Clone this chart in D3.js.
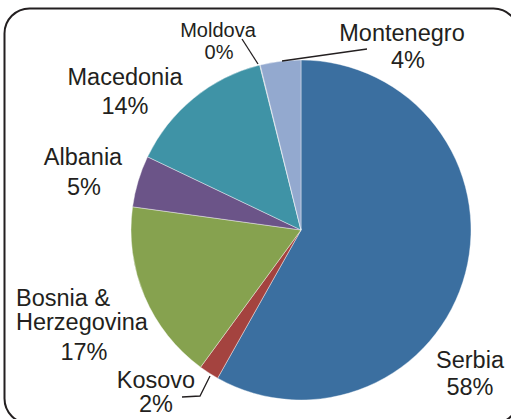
<!DOCTYPE html>
<html>
<head>
<meta charset="utf-8">
<script src="https://cdn.jsdelivr.net/npm/d3@7"></script>
<style>
  body { margin: 0; background: #fff; }
  text { font-family: "Liberation Sans", Arial, sans-serif; fill: #231f20; }
</style>
</head>
<body>
<div id="pie"></div>
<script>
// shares, clockwise from 12 o'clock
var countries = ["Serbia", "Kosovo", "Bosnia & Herzegovina", "Albania", "Macedonia", "Moldova", "Montenegro"];
var shares = [58.1, 1.9, 17.1, 4.9, 14.0, 0.05, 3.85];
var colors = ["#3b6fa0", "#a4433f", "#86a24f", "#6b5488", "#3f93a6", "#8e9aa8", "#93a9cf"];

// where each label sits (lines of text, x, first baseline, anchor, font size)
var labelLines = {
  "Serbia": [["Serbia"], 470, 368, "middle", 23.5],
  "Kosovo": [["Kosovo"], 156, 388, "middle", 23.5],
  "Bosnia & Herzegovina": [["Bosnia &", "Herzegovina"], 16, 306, "start", 23.5],
  "Albania": [["Albania"], 83, 165, "middle", 23.5],
  "Macedonia": [["Macedonia"], 125, 85, "middle", 23.5],
  "Moldova": [["Moldova"], 218, 37, "middle", 20],
  "Montenegro": [["Montenegro"], 402, 41, "middle", 23.5]
};
var pctPos = {
  "Serbia": [470, 395], "Kosovo": [156, 412], "Bosnia & Herzegovina": [84, 360],
  "Albania": [84, 195], "Macedonia": [125, 114], "Moldova": [219, 59], "Montenegro": [408, 68]
};

var width = 511, height = 419;
var cx = 301, cy = 230, radius = 170;

var svg = d3.select("#pie").append("svg")
  .attr("width", width)
  .attr("height", height);

// rounded frame, runs off the right and bottom edges
svg.append("rect")
  .attr("x", 4.5).attr("y", 8.5)
  .attr("width", 514).attr("height", 415)
  .attr("rx", 25).attr("ry", 25)
  .attr("fill", "none")
  .attr("stroke", "#231f20")
  .attr("stroke-width", 2);

var data = countries.map(function (c, i) { return { name: c, value: shares[i], color: colors[i] }; });
var total = d3.sum(shares);

var pie = d3.pie().sort(null).value(function (d) { return d.value; });
var arc = d3.arc().innerRadius(0).outerRadius(radius);

var g = svg.append("g").attr("transform", "translate(" + cx + "," + cy + ")");
g.selectAll("path")
  .data(pie(data))
  .enter().append("path")
  .attr("d", arc)
  .attr("fill", function (d) { return d.data.color; })
  .attr("stroke", "#fff")
  .attr("stroke-width", 0.4);

// leader lines
var leaders = [
  [[242, 39], [258, 64]],
  [[367, 49], [282, 61]],
  [[210, 376], [200, 396], [182, 397]]
];
svg.selectAll(".leader")
  .data(leaders)
  .enter().append("path")
  .attr("class", "leader")
  .attr("d", d3.line())
  .attr("fill", "none")
  .attr("stroke", "#231f20")
  .attr("stroke-width", 1.3);

data.forEach(function (d) {
  var l = labelLines[d.name];
  var t = svg.append("text")
    .attr("text-anchor", l[3])
    .style("font-size", l[4] + "px");
  l[0].forEach(function (line, i) {
    t.append("tspan").attr("x", l[1]).attr("y", l[2] + i * 24).text(line);
  });
  var p = pctPos[d.name];
  svg.append("text")
    .attr("x", p[0]).attr("y", p[1])
    .attr("text-anchor", "middle")
    .style("font-size", l[4] + "px")
    .text(Math.round(d.value / total * 100) + "%");
});
</script>
</body>
</html>
